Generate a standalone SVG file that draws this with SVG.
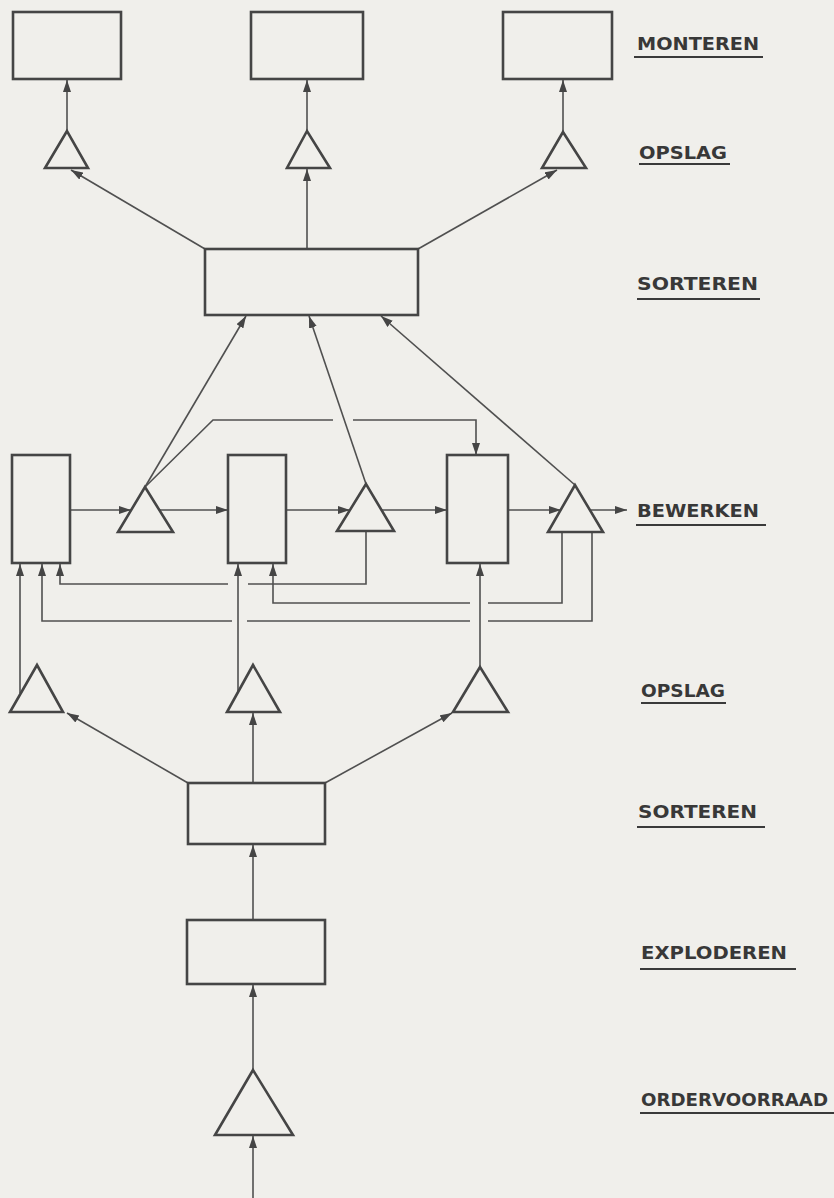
<svg xmlns="http://www.w3.org/2000/svg" width="834" height="1198" viewBox="0 0 834 1198">
<defs>
<marker id="ah" markerUnits="userSpaceOnUse" markerWidth="14" markerHeight="9" refX="12" refY="4" orient="auto">
<path d="M0,0 L12,4 L0,8 z" fill="#454545"/>
</marker>
<style>
.box{fill:none;stroke:#454545;stroke-width:2.6}
.tri{fill:none;stroke:#454545;stroke-width:2.6;stroke-linejoin:miter}
.c{fill:none;stroke:#505050;stroke-width:1.6}
.a{marker-end:url(#ah)}
.lbl{font-family:"DejaVu Sans","Liberation Sans",sans-serif;font-weight:bold;font-size:18px;fill:#383838}
.ul{stroke:#3a3a3a;stroke-width:2.2}
</style>
</defs>
<rect x="0" y="0" width="834" height="1198" fill="#f0efeb"/>

<g id="connectors">
<line class="c a" x1="67" y1="131" x2="67" y2="80"/>
<line class="c a" x1="307" y1="131" x2="307" y2="80"/>
<line class="c a" x1="563" y1="132" x2="563" y2="80"/>
<line class="c a" x1="205" y1="249" x2="71" y2="170"/>
<line class="c a" x1="307" y1="249" x2="307" y2="169"/>
<line class="c a" x1="418" y1="249" x2="557" y2="170"/>
<line class="c a" x1="145" y1="487" x2="246" y2="316"/>
<line class="c a" x1="366" y1="484" x2="309" y2="316"/>
<line class="c a" x1="575" y1="485" x2="381" y2="316"/>
<line class="c a" x1="70" y1="510" x2="131" y2="510"/>
<line class="c a" x1="159" y1="510" x2="228" y2="510"/>
<line class="c a" x1="286" y1="510" x2="350" y2="510"/>
<line class="c a" x1="382" y1="510" x2="447" y2="510"/>
<line class="c a" x1="508" y1="510" x2="561" y2="510"/>
<line class="c a" x1="590" y1="510" x2="627" y2="510"/>
<path class="c" d="M145,487 L213,420 L333,420"/>
<path class="c a" d="M353,420 L476,420 L476,455"/>
<path class="c" d="M366,531 L366,584 L248,584"/>
<path class="c a" d="M228,584 L60,584 L60,564"/>
<path class="c" d="M562,532 L562,603 L488,603"/>
<path class="c a" d="M470,603 L273,603 L273,564"/>
<path class="c" d="M592,532 L592,621 L488,621"/>
<path class="c" d="M470,621 L247,621"/>
<path class="c a" d="M232,621 L42,621 L42,564"/>
<line class="c a" x1="20" y1="693" x2="20" y2="564"/>
<line class="c a" x1="238" y1="692" x2="238" y2="564"/>
<line class="c a" x1="480" y1="667" x2="480" y2="564"/>
<line class="c a" x1="188" y1="783" x2="67" y2="713"/>
<line class="c a" x1="253" y1="783" x2="253" y2="713"/>
<line class="c a" x1="325" y1="783" x2="452" y2="713"/>
<line class="c a" x1="253" y1="920" x2="253" y2="845"/>
<line class="c a" x1="253" y1="1070" x2="253" y2="985"/>
<line class="c a" x1="253" y1="1198" x2="253" y2="1136"/>
</g>

<g id="box-monteren-1"><rect class="box" x="13" y="12" width="108" height="67"/></g>
<g id="box-monteren-2"><rect class="box" x="251" y="12" width="112" height="67"/></g>
<g id="box-monteren-3"><rect class="box" x="503" y="12" width="109" height="67"/></g>
<g id="tri-opslag-1"><polygon class="tri" points="67,131 45,168 88,168"/></g>
<g id="tri-opslag-2"><polygon class="tri" points="307,131 287,168 330,168"/></g>
<g id="tri-opslag-3"><polygon class="tri" points="563,132 542,168 586,168"/></g>
<g id="box-sorteren-1"><rect class="box" x="205" y="249" width="213" height="66"/></g>
<g id="box-bewerken-1"><rect class="box" x="12" y="455" width="58" height="108"/></g>
<g id="box-bewerken-2"><rect class="box" x="228" y="455" width="58" height="108"/></g>
<g id="box-bewerken-3"><rect class="box" x="447" y="455" width="61" height="108"/></g>
<g id="tri-bewerken-a"><polygon class="tri" points="145,487 118,532 173,532"/></g>
<g id="tri-bewerken-b"><polygon class="tri" points="366,484 337,531 394,531"/></g>
<g id="tri-bewerken-c"><polygon class="tri" points="575,485 548,532 603,532"/></g>
<g id="tri-opslag-4"><polygon class="tri" points="37,665 10,712 63,712"/></g>
<g id="tri-opslag-5"><polygon class="tri" points="253,665 227,712 280,712"/></g>
<g id="tri-opslag-6"><polygon class="tri" points="480,667 453,712 508,712"/></g>
<g id="box-sorteren-2"><rect class="box" x="188" y="783" width="137" height="61"/></g>
<g id="box-exploderen"><rect class="box" x="187" y="920" width="138" height="64"/></g>
<g id="tri-ordervoorraad"><polygon class="tri" points="253,1070 215,1135 293,1135"/></g>

<g id="label-monteren"><text class="lbl" x="637" y="50" textLength="122" lengthAdjust="spacingAndGlyphs">MONTEREN</text><line class="ul" x1="634" y1="57" x2="763" y2="57"/></g>
<g id="label-opslag-1"><text class="lbl" x="639" y="159" textLength="88" lengthAdjust="spacingAndGlyphs">OPSLAG</text><line class="ul" x1="639" y1="164" x2="730" y2="164"/></g>
<g id="label-sorteren-1"><text class="lbl" x="637" y="290" textLength="121" lengthAdjust="spacingAndGlyphs">SORTEREN</text><line class="ul" x1="637" y1="299" x2="760" y2="299"/></g>
<g id="label-bewerken"><text class="lbl" x="637" y="517" textLength="122" lengthAdjust="spacingAndGlyphs">BEWERKEN</text><line class="ul" x1="636" y1="525" x2="766" y2="525"/></g>
<g id="label-opslag-2"><text class="lbl" x="641" y="697" textLength="84" lengthAdjust="spacingAndGlyphs">OPSLAG</text><line class="ul" x1="641" y1="703" x2="726" y2="703"/></g>
<g id="label-sorteren-2"><text class="lbl" x="638" y="818" textLength="119" lengthAdjust="spacingAndGlyphs">SORTEREN</text><line class="ul" x1="637" y1="827" x2="765" y2="827"/></g>
<g id="label-exploderen"><text class="lbl" x="641" y="959" textLength="146" lengthAdjust="spacingAndGlyphs">EXPLODEREN</text><line class="ul" x1="640" y1="969" x2="796" y2="969"/></g>
<g id="label-ordervoorraad"><text class="lbl" x="641" y="1106" textLength="187" lengthAdjust="spacingAndGlyphs">ORDERVOORRAAD</text><line class="ul" x1="640" y1="1113" x2="834" y2="1113"/></g>
</svg>
